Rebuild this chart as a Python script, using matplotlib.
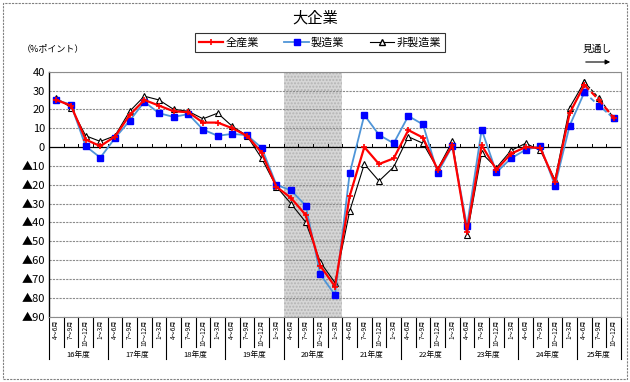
import matplotlib
matplotlib.use("Agg")
import matplotlib.pyplot as plt
from matplotlib.patches import Rectangle
from matplotlib.lines import Line2D
import matplotlib.transforms as mtransforms

plt.rcParams['font.family'] = ['Noto Sans CJK JP', 'DejaVu Sans']

# 年度と四半期
nendo = ['16年度', '17年度', '18年度', '19年度', '20年度',
         '21年度', '22年度', '23年度', '24年度', '25年度']
shihanki = ['4～6月', '7～9月', '10～12月', '1～3月']

# 全産業・製造業・非製造業 (%ポイント)
zensangyo = [25, 22, 4, 0.5, 5.6, 17, 25, 22, 19, 18.5, 13, 13,
             10, 6, -3, -21, -27, -36, -63, -74, -26, 0, -9, -6,
             9, 5, -12, 1, -45, 1, -12, -3.5, 0, -0.5, -18.5, 18,
             33, 25, 15.5]
seizo = [25, 22.5, 0.5, -5.6, 4.8, 14, 24, 18, 16, 17.5, 9.3, 6,
         7, 6.3, -0.4, -20, -23, -31, -67.5, -78.5, -14, 17, 6.5, 2,
         16.5, 12, -13.7, 0.7, -42, 9.3, -13.4, -6, -1.4, 0.4, -20.4, 11.4,
         29, 22, 15.3]
hiseizo = [26, 21, 6, 3, 6, 19, 27, 25, 20, 19, 15, 18,
           11, 6, -6, -21, -30, -39.8, -61, -72, -34, -9, -18, -10.6,
           5.5, 2, -11.6, 3, -46.6, -3.2, -11, -1.8, 2, -1.8, -17.3, 21,
           34.5, 26, 15.5]
mitoshi_start = 36  # ここから見通し (破線)

n = len(zensangyo)
x = list(range(n))

fig = plt.figure(figsize=(6.3, 3.82), dpi=100)
ax = fig.add_axes([49/630, 1-316.7/382, (621-49)/630, 245/382])

# 20年度の網掛け
ax.axvspan(15.5, 19.5, facecolor='#d6d6d6', edgecolor='#b4b4b4', hatch='.....', lw=0, zorder=0)

# グリッド
for v in range(-90, 41, 10):
    if v != 0:
        ax.axhline(v, color='#8c8c8c', lw=0.8, ls=(0, (2, 1)), zorder=1)
ax.axhline(0, color='black', lw=0.9, zorder=2)
for b in range(1, n):
    ax.plot([b - 0.5, b - 0.5], [0, 1.6], color='black', lw=0.7, zorder=2)

series = [
    (hiseizo, dict(color='black', lw=0.8, marker='^', ms=5, mfc='white', mec='black', mew=0.8)),
    (seizo, dict(color='#4f95d8', lw=1.3, marker='s', ms=4, mfc='#0000ff', mec='#0000ff')),
    (zensangyo, dict(color='#ff0000', lw=1.6, marker='+', ms=4, mew=1.2, mec='#ff0000')),
]
for vals, st in series:
    ax.plot(x[:mitoshi_start + 1], vals[:mitoshi_start + 1], zorder=3, **st)
    ax.plot(x[mitoshi_start:], vals[mitoshi_start:], ls=(0, (3, 1.5)), zorder=3, **st)

ax.set_xlim(-0.5, n - 0.5)
ax.set_ylim(-90, 40)
ax.set_yticks(range(-90, 41, 10))
ax.set_yticklabels([str(v) if v >= 0 else '▲' + str(-v) for v in range(-90, 41, 10)], fontsize=8)
ax.tick_params(axis='y', length=0, pad=3)
ax.set_xticks([])
for s in ['top', 'right', 'bottom']:
    ax.spines[s].set_color('#8c8c8c')
    ax.spines[s].set_linestyle((0, (2, 1)))
    ax.spines[s].set_linewidth(0.8)
ax.spines['left'].set_color('black')
ax.spines['left'].set_linewidth(1.0)

# 横軸ラベル
tr = mtransforms.blended_transform_factory(ax.transData, ax.transAxes)
for i in range(n):
    ax.text(i, -0.012, shihanki[i % 4], transform=tr, rotation=90, ha='center', va='top',
            fontsize=4.5, clip_on=False)
for b in range(n + 1):
    low = -0.173 if b % 4 == 0 or b == n else -0.124
    ax.add_line(Line2D([b - 0.5, b - 0.5], [0, low], transform=tr, color='black', lw=0.8, clip_on=False))
for k, lab in enumerate(nendo):
    cx = (4 * k + min(4 * k + 4, n)) / 2 - 0.5
    ax.text(cx, -0.156, lab, transform=tr, ha='center', va='center', fontsize=5.5, clip_on=False)

# タイトル・凡例など
fig.text(315/630, 1 - 18/382, '大企業', ha='center', va='center', fontsize=11)
fig.text(22/630, 1 - 49/382, '（%ポイント）', ha='left', va='center', fontsize=6.5)
fig.text(597/630, 1 - 49/382, '見通し', ha='center', va='center', fontsize=7)
fig.add_artist(matplotlib.patches.FancyArrowPatch((583/630, 1 - 62/382), (613/630, 1 - 62/382),
               transform=fig.transFigure, arrowstyle='-|>', mutation_scale=7, color='black', lw=0.8))

handles = [
    Line2D([], [], color='#ff0000', lw=1.6, marker='+', ms=4, mew=1.2),
    Line2D([], [], color='#4f95d8', lw=1.3, marker='s', ms=4, mfc='#0000ff', mec='#0000ff'),
    Line2D([], [], color='black', lw=0.8, marker='^', ms=4, mfc='white', mec='black'),
]
leg = fig.legend(handles, ['全産業', '製造業', '非製造業'], loc='center',
                 bbox_to_anchor=(320/630, 1 - 42.5/382), ncol=3, fontsize=8,
                 frameon=True, fancybox=False, edgecolor='black', handlelength=2.2,
                 handletextpad=0.2, columnspacing=2.3, borderpad=0.35)
leg.get_frame().set_linewidth(0.8)

fig.add_artist(Rectangle((3/630, 3/382), 624/630, 376/382, transform=fig.transFigure,
                         fill=False, edgecolor='#808080', lw=0.8, ls=(0, (2, 1))))

fig.savefig('out.png', dpi=100)
